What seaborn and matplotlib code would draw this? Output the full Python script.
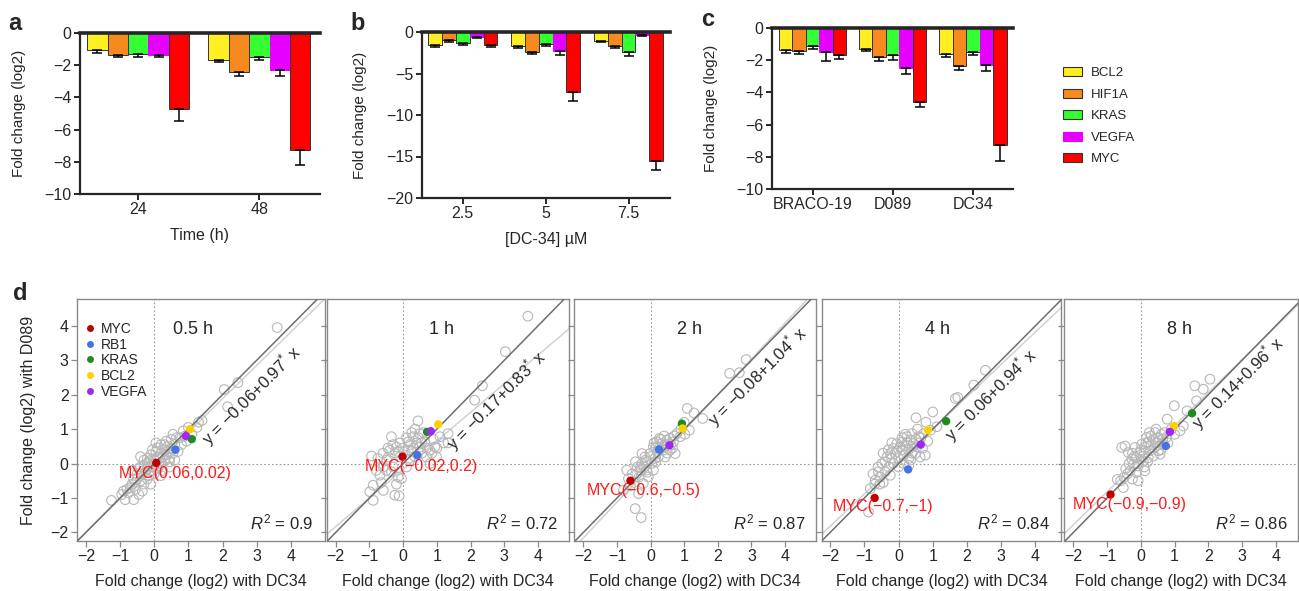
import numpy as np
import pandas as pd
import matplotlib
matplotlib.use('Agg')
import matplotlib.pyplot as plt
from matplotlib.patches import Patch
from matplotlib.lines import Line2D
import seaborn as sns

sns.set_style('ticks')
plt.rcParams['font.family'] = ['Liberation Sans', 'DejaVu Sans']
plt.rcParams['mathtext.fontset'] = 'custom'
plt.rcParams['mathtext.rm'] = 'Liberation Sans'
plt.rcParams['mathtext.it'] = 'Liberation Sans:italic'

# ---- bar data (panels a-c) ----
genes = ['BCL2', 'HIF1A', 'KRAS', 'VEGFA', 'MYC']
bar_colors = {'BCL2': '#FFEE22', 'HIF1A': '#F68A1E', 'KRAS': '#33FF33',
              'VEGFA': '#E600FF', 'MYC': '#FF0000'}

time_cats = ['24', '48']
time_mean = {'BCL2': [-1.08, -1.66], 'HIF1A': [-1.35, -2.40], 'KRAS': [-1.28, -1.49],
             'VEGFA': [-1.39, -2.32], 'MYC': [-4.70, -7.27]}
time_err = {'BCL2': [0.16, 0.16], 'HIF1A': [0.15, 0.25], 'KRAS': [0.21, 0.21],
            'VEGFA': [0.12, 0.37], 'MYC': [0.74, 0.95]}

dose_cats = ['2.5', '5', '7.5']
dose_mean = {'BCL2': [-1.53, -1.65, -1.12], 'HIF1A': [-1.00, -2.41, -1.65],
             'KRAS': [-1.33, -1.45, -2.45], 'VEGFA': [-0.64, -2.33, -0.36],
             'MYC': [-1.60, -7.27, -15.58]}
dose_err = {'BCL2': [0.32, 0.28, 0.12], 'HIF1A': [0.16, 0.24, 0.28],
            'KRAS': [0.20, 0.28, 0.48], 'VEGFA': [0.12, 0.44, 0.08],
            'MYC': [0.17, 1.04, 1.01]}

drug_cats = ['BRACO-19', 'D089', 'DC34']
drug_mean = {'BCL2': [-1.35, -1.30, -1.61], 'HIF1A': [-1.45, -1.82, -2.38],
             'KRAS': [-1.14, -1.70, -1.49], 'VEGFA': [-1.51, -2.48, -2.28],
             'MYC': [-1.70, -4.62, -7.25]}
drug_err = {'BCL2': [0.20, 0.15, 0.21], 'HIF1A': [0.16, 0.23, 0.23],
            'KRAS': [0.16, 0.27, 0.17], 'VEGFA': [0.56, 0.40, 0.37],
            'MYC': [0.20, 0.31, 0.99]}

# ---- scatter data (panel d): (DC34, D089) log2 fold changes ----
time_points = ['0.5 h', '1 h', '2 h', '4 h', '8 h']
fit_intercept = [-0.06, -0.17, -0.08, 0.06, 0.14]
fit_slope = [0.97, 0.83, 1.04, 0.94, 0.96]
r2_values = ['0.9', '0.72', '0.87', '0.84', '0.86']
myc_labels = ['MYC(0.06,0.02)', 'MYC(\u22120.02,0.2)', 'MYC(\u22120.6,\u22120.5)',
              'MYC(\u22120.7,\u22121)', 'MYC(\u22120.9,\u22120.9)']

grey_05h = [(3.6, 3.95), (2.45, 2.35), (2.05, 2.15), (2.15, 1.65), (1.4, 1.25), (1.25, 1.05),
            (0.85, 0.95), (0.75, 0.75), (0.95, 0.65), (0.5, 0.7), (0.6, 0.55), (0.4, 0.5),
            (0.3, 0.4), (0.55, 0.3), (0.2, 0.3), (0.1, 0.2), (-0.1, 0.25), (-0.2, 0.15),
            (0.3, 0.1), (0.45, 0.15), (0.15, -0.05), (-0.05, -0.1), (-0.3, -0.05), (-0.4, 0.2),
            (-0.25, -0.25), (-0.5, -0.3), (-0.4, -0.5), (-0.6, -0.45), (-0.2, -0.45), (-0.7, -0.7),
            (-0.55, -0.75), (-0.45, -0.9), (-0.6, -1.05), (-0.85, -1.05), (-1.25, -1.07),
            (-0.35, -0.8), (-0.1, -0.6), (0.0, -0.3), (0.25, -0.2), (0.6, 0.1), (0.35, 0.65),
            (0.2, 0.55), (0.1, 0.45), (-0.15, 0.05), (0.7, 0.35), (0.8, 0.55), (1.1, 0.85),
            (1.3, 1.2), (-0.8, -0.75), (-0.65, -0.2), (0.05, 0.6), (0.45, -0.1), (-0.3, 0.1),
            (0.0, 0.1), (0.2, 0.0), (-0.45, -0.15), (-0.15, -0.35), (0.35, 0.25), (-0.55, -0.55),
            (-0.9, -0.8), (-0.2, 0.0), (0.0, 0.0), (0.1, -0.15), (-0.1, 0.1), (0.25, 0.2),
            (0.4, 0.35), (0.5, 0.45), (0.15, 0.15), (-0.35, -0.3), (-0.5, -0.45), (-0.65, -0.6),
            (-0.75, -0.85), (-0.3, -0.6), (0.05, 0.35), (-0.05, 0.4), (0.3, 0.55), (0.65, 0.75),
            (0.55, 0.85), (0.9, 0.8), (1.0, 1.05), (-0.95, -0.9), (-0.4, -0.1), (0.2, -0.35),
            (-0.2, -0.15), (0.45, 0.05)]
grey_1h = [(3.7, 4.28), (3.03, 3.25), (2.35, 2.26), (2.12, 1.84), (1.33, 0.6), (0.44, 1.24),
           (-0.94, 0.22), (-0.99, -0.82), (-0.89, -1.07), (-0.59, -0.78), (-0.25, -0.92),
           (-0.12, -0.94), (-0.89, -0.63), (-0.35, 0.78), (-0.4, 0.39), (-0.2, 0.48), (0.15, 0.63),
           (0.3, 0.78), (0.49, 0.87), (0.94, 0.48), (0.79, 0.39), (0.99, 0.19), (1.09, 0.78),
           (1.33, 0.87), (0.2, 0.1), (-0.1, 0.19), (-0.49, 0.1), (-0.59, -0.1), (-0.35, -0.24),
           (-0.15, -0.39), (-0.69, -0.34), (-0.44, 0.19), (0.15, 0.39), (0.49, 0.48), (0.64, 0.63),
           (0.69, 0.19), (-0.05, -0.44), (0.79, 0.0), (0.1, 0.75), (0.25, 0.35), (0.55, 0.3),
           (-0.25, 0.3), (0.0, 0.45), (0.4, 0.6), (0.6, 0.9), (-0.6, 0.3), (-0.75, 0.15),
           (0.35, 1.0), (0.9, 0.7), (1.2, 0.6), (-0.1, 0.6), (0.2, 0.55), (0.05, 0.25),
           (0.35, 0.2), (0.55, 0.6), (0.7, 0.45), (-0.3, 0.55), (-0.15, 0.35), (0.3, 0.45),
           (-0.5, -0.2), (-0.3, -0.1), (-0.8, -0.2), (-0.45, 0.45), (0.1, -0.1), (0.45, 0.75),
           (0.85, 0.3), (1.0, 0.45), (-0.2, -0.6), (0.25, 0.9), (-0.65, -0.55)]
grey_2h = [(2.84, 3.02), (2.35, 2.62), (2.64, 2.64), (1.09, 1.6), (1.29, 1.47), (1.55, 1.31),
           (1.15, 0.97), (1.02, 0.85), (-0.46, -1.31), (-0.28, -1.57), (-0.81, -0.78),
           (-0.71, -0.19), (-0.66, -0.44), (-0.36, -0.87), (-0.22, -0.58), (-0.41, -0.29),
           (-0.26, 0.0), (-0.17, 0.19), (-0.02, 0.29), (0.08, 0.48), (0.18, 0.63), (0.33, 0.58),
           (0.48, 0.68), (0.58, 0.73), (0.68, 0.63), (0.73, 0.29), (0.58, 0.39), (0.38, 0.39),
           (0.23, 0.19), (0.03, 0.0), (-0.12, -0.19), (-0.31, -0.1), (0.08, -0.19), (-0.07, -0.39),
           (0.13, 0.15), (0.78, 0.87), (0.88, 0.78), (0.26, 0.73), (0.43, 0.19), (-0.26, 0.29),
           (-0.5, -0.55), (-0.35, -0.4), (0.15, 0.45), (0.45, 0.5), (-0.1, 0.05), (-0.3, -0.2),
           (0.65, 0.45), (1.0, 1.2), (0.0, 0.2), (0.2, 0.35), (0.35, 0.5), (0.5, 0.55),
           (0.6, 0.55), (-0.15, 0.1), (-0.2, -0.1), (-0.4, -0.1), (-0.55, -0.3), (-0.6, -0.65),
           (0.1, 0.6), (0.3, 0.7), (0.4, 0.8), (0.7, 0.8), (-0.1, -0.25), (0.15, 0.05),
           (-0.45, 0.05), (0.5, 0.3), (0.9, 1.0), (0.25, 0.45)]
grey_4h = [(2.54, 2.71), (2.2, 2.28), (1.66, 1.89), (1.73, 1.92), (1.0, 1.5), (0.51, 1.33),
           (-0.88, -1.41), (-0.83, -0.73), (-0.68, -0.48), (-0.59, -0.24), (-0.49, 0.0),
           (-0.34, 0.19), (-0.24, 0.29), (-0.15, 0.44), (-0.05, 0.58), (0.1, 0.63), (0.24, 0.78),
           (0.34, 0.68), (0.44, 0.58), (0.59, 0.78), (0.73, 0.87), (0.78, 0.24), (0.63, 0.19),
           (0.49, 0.29), (0.29, 0.39), (0.15, 0.24), (0.0, 0.15), (-0.15, 0.0), (-0.29, -0.1),
           (-0.39, -0.24), (-0.54, -0.39), (-0.24, -0.34), (0.05, 0.48), (0.2, 0.53), (0.39, 0.87),
           (0.54, 0.48), (0.93, 0.97), (1.12, 1.07), (-0.1, 0.29), (0.15, 0.0), (-0.7, -0.6),
           (-0.45, -0.55), (0.3, 0.15), (0.6, 0.6), (-0.2, 0.6), (0.85, 0.65), (0.4, 0.3),
           (-0.6, -0.1), (0.1, 0.4), (0.25, 0.6), (0.4, 0.5), (0.5, 0.7), (0.65, 0.75),
           (-0.05, 0.35), (-0.3, 0.4), (-0.4, 0.05), (-0.2, 0.15), (0.0, -0.1), (0.3, -0.05),
           (-0.55, -0.6), (-0.75, -0.3), (0.7, 0.45), (0.2, 0.85), (0.55, 1.0), (0.8, 1.2),
           (-0.45, 0.3), (0.1, 0.75), (0.35, 0.1)]
grey_8h = [(2.05, 2.45), (1.85, 2.16), (1.6, 2.26), (1.65, 1.82), (0.99, 1.68), (1.37, 1.53),
           (0.78, 1.29), (1.26, 1.09), (1.16, 0.95), (-0.47, 0.51), (-0.57, 0.47), (-0.7, -0.46),
           (-0.52, -0.7), (-0.08, -0.5), (0.12, -0.21), (-0.32, -0.21), (-0.22, -0.02),
           (-0.13, 0.17), (-0.03, 0.32), (0.12, 0.47), (0.22, 0.61), (0.37, 0.71), (0.52, 0.76),
           (0.61, 0.85), (0.66, 0.56), (0.52, 0.37), (0.37, 0.22), (0.22, 0.17), (0.07, 0.08),
           (-0.08, -0.07), (-0.27, 0.13), (-0.37, 0.32), (-0.17, 0.47), (0.17, 0.76), (0.42, 0.9),
           (0.57, 0.27), (0.76, 0.76), (0.02, 0.56), (0.27, 0.37), (-0.13, -0.26), (-0.6, -0.5),
           (-0.4, -0.3), (0.3, 0.55), (0.45, 0.6), (0.9, 1.0), (-0.25, 0.3), (0.1, 0.3),
           (0.65, 0.7), (0.0, 0.4), (0.15, 0.6), (0.3, 0.8), (0.5, 0.6), (0.4, 0.45),
           (-0.1, 0.0), (-0.2, 0.2), (0.05, 0.2), (0.6, 0.4), (0.7, 0.9), (-0.45, -0.15),
           (-0.35, 0.0), (0.2, 0.05), (0.8, 0.6), (0.45, 1.0), (-0.5, -0.4), (-0.25, -0.45),
           (0.25, 0.9), (1.0, 0.85), (0.1, -0.1)]
grey_sets = [grey_05h, grey_1h, grey_2h, grey_4h, grey_8h]

hl_genes = ['MYC', 'RB1', 'KRAS', 'BCL2', 'VEGFA']
hl_colors = {'MYC': '#C00000', 'RB1': '#4472E8', 'KRAS': '#1E8C1E',
             'BCL2': '#FFD000', 'VEGFA': '#A028F0'}
hl_points = {
    'MYC':   [(0.06, 0.02), (-0.02, 0.2), (-0.6, -0.5), (-0.7, -1.0), (-0.9, -0.9)],
    'RB1':   [(0.62, 0.40), (0.42, 0.24), (0.25, 0.41), (0.28, -0.17), (0.74, 0.51)],
    'KRAS':  [(1.10, 0.71), (0.71, 0.92), (0.93, 1.16), (1.39, 1.23), (1.52, 1.46)],
    'BCL2':  [(1.05, 1.00), (1.04, 1.14), (0.95, 1.02), (0.86, 0.97), (0.98, 1.09)],
    'VEGFA': [(0.93, 0.80), (0.82, 0.94), (0.56, 0.53), (0.65, 0.55), (0.86, 0.92)],
}

W, H = 1299, 591
fig = plt.figure(figsize=(W / 100, H / 100), dpi=100)


def px_axes(left, top, width, height):
    return fig.add_axes([left / W, 1 - (top + height) / H, width / W, height / H])


def bar_panel(ax, cats, means, errs, ylo, ystep, xlim):
    rows = []
    for g in genes:
        for i, c in enumerate(cats):
            rows.append({'cond': c, 'gene': g, 'val': means[g][i]})
    df = pd.DataFrame(rows)
    sns.barplot(data=df, x='cond', y='val', hue='gene', hue_order=genes, order=cats,
                palette=bar_colors, saturation=1, width=0.84, edgecolor='#333333',
                linewidth=0.7, errorbar=None, legend=False, ax=ax)
    for cont, g in zip(ax.containers, genes):
        xs = [p.get_x() + p.get_width() / 2 for p in cont]
        if g == 'VEGFA':
            for p in cont:
                p.set_edgecolor(bar_colors['VEGFA'])
        ax.errorbar(xs, means[g], yerr=[errs[g], [0] * len(cats)], fmt='none',
                    ecolor='black', elinewidth=1.1, capsize=3.5, capthick=1.1, zorder=3)
    ax.set_ylim(ylo, 0)
    ax.set_xlim(*xlim)
    ax.set_yticks(np.arange(ylo, 0.1, ystep))
    ax.spines['right'].set_visible(False)
    ax.spines['top'].set_linewidth(2.6)
    ax.spines['left'].set_linewidth(1.6)
    ax.spines['bottom'].set_linewidth(1.6)
    ax.tick_params(axis='both', direction='out', length=4, width=1.4, labelsize=11.5, pad=2)
    ax.tick_params(top=False)
    ax.set_ylabel('Fold change (log2)', fontsize=11)
    ax.yaxis.set_label_coords(-0.225, 0.5)
    ax.set_xlabel('')


ax_a = px_axes(80, 33, 240, 161)
bar_panel(ax_a, time_cats, time_mean, time_err, -10, 2, (-0.48, 1.5))
ax_a.set_xlabel('Time (h)', fontsize=11.5, labelpad=8)

ax_b = px_axes(422, 32, 248, 166)
bar_panel(ax_b, dose_cats, dose_mean, dose_err, -20, 5, (-0.49, 2.5))
ax_b.set_xlabel('[DC-34] \u00b5M', fontsize=11.5, labelpad=8)
ax_b.yaxis.set_label_coords(-0.22, 0.5)

ax_c = px_axes(772, 28, 241, 161)
bar_panel(ax_c, drug_cats, drug_mean, drug_err, -10, 2, (-0.505, 2.5))

fig.legend(handles=[Patch(facecolor=bar_colors[g],
                          edgecolor='#333333' if g != 'VEGFA' else bar_colors[g],
                          linewidth=0.8) for g in genes],
           labels=genes, loc='upper left', bbox_to_anchor=(1058 / W, 1 - 62 / H),
           frameon=False, fontsize=9.5, handlelength=1.4, handleheight=0.65,
           labelspacing=0.72, handletextpad=0.7, borderaxespad=0)

# ---- panel d ----
d_pos = [(77, 248), (327, 242), (574, 242), (822, 239), (1064, 234)]
d_xlim = [(-2.26, 5.0), (-2.26, 4.92), (-2.28, 4.92), (-2.24, 4.75), (-2.28, 4.66)]
eq_pos = [(2.83, 1.97), (2.77, 1.82), (3.16, 2.52), (2.70, 1.99), (2.89, 2.35)]
myc_pos = [(0.61, -0.28), (0.55, -0.08), (-0.21, -0.78), (-0.46, -1.24), (-0.32, -1.18)]
spine_grey = '#8a8a8a'

for k in range(5):
    left, width = d_pos[k]
    ax = px_axes(left, 299, width, 242)
    gx = [p[0] for p in grey_sets[k]]
    gy = [p[1] for p in grey_sets[k]]
    ax.axvline(0, color='#999999', ls=(0, (1.5, 2)), lw=0.8, zorder=0)
    ax.axhline(0, color='#999999', ls=(0, (1.5, 2)), lw=0.8, zorder=0)
    sns.scatterplot(x=gx, y=gy, ax=ax, s=48, facecolor='none', edgecolor='#b8b8b8',
                    linewidth=0.8, zorder=2)
    ax.axline((0, 0), slope=1, color='#6e6e6e', lw=1.1, zorder=3)
    ax.axline((0, fit_intercept[k]), slope=fit_slope[k], color='#d2d2d2', lw=1.1, zorder=1)
    for g in hl_genes:
        px, py = hl_points[g][k]
        ax.scatter([px], [py], s=36, color=hl_colors[g], edgecolor='none', zorder=4)
    ax.set_xlim(*d_xlim[k])
    ax.set_ylim(-2.25, 4.78)
    ax.set_xticks(range(-2, 5))
    ax.set_yticks(range(-2, 5))
    for sp in ax.spines.values():
        sp.set_color(spine_grey)
        sp.set_linewidth(1.0)
    ax.tick_params(direction='out', length=4, width=0.9, color=spine_grey,
                   labelsize=11.5, pad=2)
    if k > 0:
        ax.tick_params(labelleft=False)
    else:
        ax.set_ylabel('Fold change (log2) with D089', fontsize=11.5)
        ax.yaxis.set_label_coords(-0.165, 0.5)
    ax.set_xlabel('Fold change (log2) with DC34', fontsize=11.5, labelpad=7)

    ax.text(1.15, 3.9, time_points[k], ha='center', va='center', fontsize=13)
    sign = '\u2212' if fit_intercept[k] < 0 else ''
    eq = 'y = {}{:.2f}+{:.2f}$^{{*}}$ x'.format(sign, abs(fit_intercept[k]), fit_slope[k])
    ax.text(eq_pos[k][0], eq_pos[k][1], eq, ha='center', va='center', rotation=45,
            rotation_mode='anchor', fontsize=12)
    ax.text(0.955, 0.075, '$R^2$ = ' + r2_values[k], transform=ax.transAxes,
            ha='right', va='center', fontsize=12)
    ax.text(myc_pos[k][0], myc_pos[k][1], myc_labels[k], ha='center', va='center',
            color='#FF1A1A', fontsize=11.5, zorder=5)
    if k == 0:
        handles = [Line2D([], [], marker='o', ls='none', markersize=5,
                          markerfacecolor=hl_colors[g], markeredgecolor='none')
                   for g in hl_genes]
        ax.legend(handles, hl_genes, loc='upper left', bbox_to_anchor=(0.03, 0.905),
                  frameon=False, fontsize=10, handlelength=0.8, handletextpad=0.4,
                  labelspacing=0.12, borderaxespad=0, borderpad=0)

for label, (x, y) in zip(['a', 'b', 'c', 'd'], [(15, 23), (358, 23), (708, 20), (20, 293)]):
    fig.text(x / W, 1 - y / H, label, ha='center', va='center', fontsize=17, fontweight='bold')

fig.savefig('out.png', dpi=100)
